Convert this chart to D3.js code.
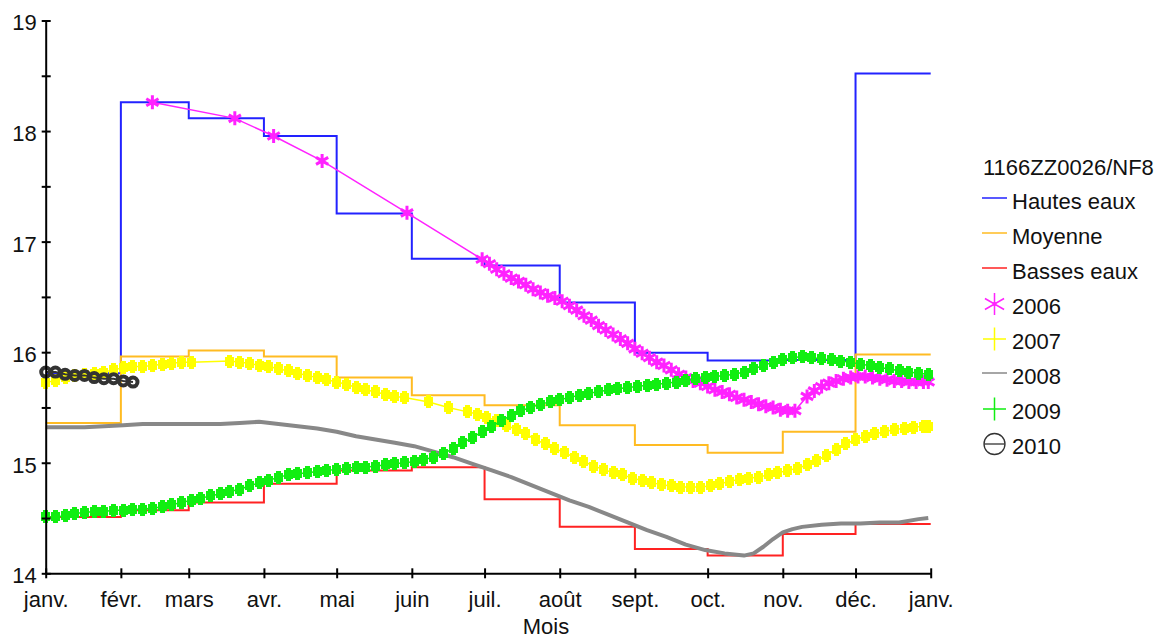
<!DOCTYPE html>
<html>
<head>
<meta charset="utf-8">
<script src="https://cdn.jsdelivr.net/npm/d3@7"></script>
<style>
  body { margin: 0; background: #fff; }
  svg { display: block; }
  text { font-family: "Liberation Sans", Arial, sans-serif; font-size: 22px; fill: #111; }
</style>
</head>
<body>
<svg id="chart" width="1171" height="639"></svg>
<script>
// Piezometer 1166ZZ0026/NF8 : monthly reference levels and yearly records (m)
const monthLabels = ["janv.", "févr.", "mars", "avr.", "mai", "juin", "juil.", "août", "sept.", "oct.", "nov.", "déc.", "janv."];
const monthStarts = [0, 31, 59, 90, 120, 151, 181, 212, 243, 273, 304, 334, 365];
const yTicks = [14, 14.5, 15, 15.5, 16, 16.5, 17, 17.5, 18, 18.5, 19];

// Monthly reference levels
const hautesEaux = [15.81, 18.26, 18.115, 17.955, 17.255, 16.845, 16.785, 16.45, 15.995, 15.925, 15.93, 18.52];
const moyenne    = [15.36, 15.96, 16.015, 15.96, 15.77, 15.61, 15.52, 15.34, 15.16, 15.09, 15.28, 15.98];
const bassesEaux = [14.51, 14.57, 14.64, 14.81, 14.93, 14.96, 14.67, 14.42, 14.22, 14.16, 14.355, 14.445];

// 2006 (day of year, level)
const days2006 = [44, 78, 94, 114, 149, 180, 183, 186, 189, 192, 195, 198, 201, 204, 207, 210, 213, 216, 219, 222,
  225, 228, 231, 234, 237, 240, 243, 246, 249, 252, 255, 258, 261, 264, 267, 270, 273, 276, 279, 282, 285, 288,
  291, 294, 297, 300, 303, 306, 309, 314, 317, 320, 323, 326, 329, 332, 335, 338, 341, 344, 347, 350, 353, 356,
  359, 362, 364];
const vals2006 = [18.26, 18.115, 17.955, 17.73, 17.26, 16.84, 16.80, 16.75, 16.71, 16.67, 16.64, 16.61, 16.57, 16.54,
  16.51, 16.49, 16.46, 16.42, 16.38, 16.33, 16.29, 16.24, 16.20, 16.16, 16.12, 16.08, 16.03, 15.99, 15.95, 15.91,
  15.88, 15.84, 15.80, 15.77, 15.74, 15.72, 15.69, 15.66, 15.64, 15.62, 15.59, 15.57, 15.55, 15.53, 15.51, 15.50,
  15.48, 15.47, 15.47, 15.60, 15.65, 15.69, 15.72, 15.74, 15.76, 15.77, 15.78, 15.78, 15.77, 15.76, 15.75, 15.74,
  15.74, 15.73, 15.73, 15.73, 15.73];

// 2007
const days2007 = [0, 4, 8, 12, 16, 20, 24, 28, 32, 36, 40, 44, 48, 52, 56, 60, 76, 80, 84, 88, 92, 96, 100, 104, 108,
  112, 116, 120, 124, 128, 132, 136, 140, 144, 148, 158, 166, 174, 178, 182, 186, 190, 194, 198, 202, 206, 210, 214,
  218, 222, 226, 230, 234, 238, 242, 246, 250, 254, 258, 262, 266, 270, 274, 278, 282, 286, 290, 294, 298, 302, 306,
  310, 314, 318, 322, 326, 330, 334, 338, 342, 346, 350, 354, 358, 362, 364];
const vals2007 = [15.73, 15.74, 15.77, 15.79, 15.80, 15.81, 15.82, 15.84, 15.86, 15.87, 15.87, 15.88, 15.89, 15.90,
  15.91, 15.91, 15.92, 15.91, 15.90, 15.88, 15.87, 15.85, 15.83, 15.81, 15.79, 15.77, 15.75, 15.73, 15.71, 15.68,
  15.66, 15.64, 15.62, 15.60, 15.59, 15.55, 15.50, 15.46, 15.44, 15.41, 15.38, 15.34, 15.30, 15.26, 15.21, 15.17,
  15.13, 15.09, 15.05, 15.01, 14.97, 14.94, 14.91, 14.89, 14.86, 14.84, 14.82, 14.80, 14.79, 14.78, 14.78, 14.78,
  14.79, 14.81, 14.83, 14.85, 14.86, 14.87, 14.89, 14.91, 14.93, 14.95, 14.98, 15.02, 15.07, 15.12, 15.17, 15.21,
  15.24, 15.26, 15.28, 15.30, 15.31, 15.32, 15.33, 15.33];

// 2008
const days2008 = [0, 8, 16, 24, 32, 40, 48, 56, 64, 72, 80, 88, 96, 104, 112, 120, 128, 136, 144, 152, 160, 168, 176,
  184, 192, 200, 208, 216, 224, 232, 240, 248, 256, 264, 272, 280, 288, 292, 296, 300, 304, 308, 312, 320, 328, 336,
  344, 352, 360, 364];
const vals2008 = [15.32, 15.32, 15.32, 15.33, 15.34, 15.35, 15.35, 15.35, 15.35, 15.35, 15.36, 15.37, 15.35, 15.33,
  15.31, 15.28, 15.24, 15.21, 15.18, 15.15, 15.10, 15.05, 14.99, 14.93, 14.87, 14.80, 14.73, 14.66, 14.60, 14.53,
  14.46, 14.39, 14.33, 14.26, 14.21, 14.18, 14.16, 14.18, 14.24, 14.31, 14.37, 14.40, 14.42, 14.44, 14.45, 14.45,
  14.46, 14.46, 14.49, 14.50];

// 2009
const days2009 = [0, 4, 8, 12, 16, 20, 24, 28, 32, 36, 40, 44, 48, 52, 56, 60, 64, 68, 72, 76, 80, 84, 88, 92, 96,
  100, 104, 108, 112, 116, 120, 124, 128, 132, 136, 140, 144, 148, 152, 156, 160, 164, 168, 172, 176, 180, 184, 188,
  192, 196, 200, 204, 208, 212, 216, 220, 224, 228, 232, 236, 240, 244, 248, 252, 256, 260, 264, 268, 272, 276, 280,
  284, 288, 292, 296, 300, 304, 308, 312, 316, 320, 324, 328, 332, 336, 340, 344, 348, 352, 356, 360, 364];
const vals2009 = [14.51, 14.51, 14.52, 14.54, 14.55, 14.56, 14.56, 14.57, 14.57, 14.58, 14.58, 14.59, 14.60, 14.62,
  14.64, 14.66, 14.68, 14.70, 14.72, 14.74, 14.76, 14.79, 14.82, 14.84, 14.87, 14.89, 14.90, 14.91, 14.92, 14.93,
  14.94, 14.95, 14.96, 14.96, 14.97, 14.98, 14.99, 15.00, 15.01, 15.03, 15.05, 15.08, 15.13, 15.18, 15.23, 15.28,
  15.33, 15.38, 15.43, 15.47, 15.50, 15.53, 15.55, 15.57, 15.59, 15.61, 15.63, 15.64, 15.66, 15.67, 15.68, 15.69,
  15.70, 15.71, 15.72, 15.73, 15.74, 15.76, 15.77, 15.78, 15.79, 15.80, 15.82, 15.85, 15.88, 15.91, 15.93, 15.95,
  15.96, 15.95, 15.94, 15.93, 15.92, 15.91, 15.89, 15.88, 15.86, 15.85, 15.83, 15.82, 15.81, 15.80];

// 2010
const days2010 = [0, 4, 8, 12, 16, 20, 24, 28, 32, 36];
const vals2010 = [15.82, 15.82, 15.80, 15.79, 15.79, 15.77, 15.76, 15.76, 15.74, 15.73];

const legendTitle = "1166ZZ0026/NF8";
const legendNames = ["Hautes eaux", "Moyenne", "Basses eaux", "2006", "2007", "2008", "2009", "2010"];
const colors = {
  hautes: "#2222ff", moyenne: "#ffbb22", basses: "#ff2222",
  y2006: "#ff22ff", y2007: "#ffff00", y2008: "#888888", y2009: "#11ee11", y2010: "#333333"
};

const svg = d3.select("#chart");
const x = d3.scaleLinear().domain([0, 365]).range([45.7, 930.7]);
const y = d3.scaleLinear().domain([14, 19]).range([573.3, 20.5]);

const zip = (ds, vs) => ds.map((d, i) => [d, vs[i]]);
const monthly = vs => monthStarts.slice(0, 12).map((d, i) => [d, vs[i]]).concat([[365, vs[11]]]);

const stepLine = d3.line().x(d => x(d[0])).y(d => y(d[1])).curve(d3.curveStepAfter);
const plainLine = d3.line().x(d => x(d[0])).y(d => y(d[1]));

// Marker shapes
function asteriskPath(r) {
  const a = r * 0.87, b = r * 0.5;
  return `M0,${-r}V${r}M${-a},${-b}L${a},${b}M${-a},${b}L${a},${-b}`;
}
function crossPath(r) { return `M${-r},0H${r}M0,${-r}V${r}`; }
// chunky cross used for the daily markers: square body with short vertical arms
const blockPlus = "M-4.5,-4.5h9v9h-9zM-2.5,-6.5h5v13h-5z";

// Reference steps
const steps = svg.append("g").attr("fill", "none").attr("stroke-width", 2);
[[hautesEaux, colors.hautes], [moyenne, colors.moyenne], [bassesEaux, colors.basses]].forEach(([vs, c]) => {
  steps.append("path").attr("d", stepLine(monthly(vs))).attr("stroke", c);
});

// 2006
const s2006 = zip(days2006, vals2006);
svg.append("path").attr("d", plainLine(s2006)).attr("fill", "none")
  .attr("stroke", colors.y2006).attr("stroke-width", 1.5);
svg.append("g").selectAll("path").data(s2006).join("path")
  .attr("transform", d => `translate(${x(d[0])},${y(d[1])})`)
  .attr("d", asteriskPath(7)).attr("fill", "none")
  .attr("stroke", colors.y2006).attr("stroke-width", 3);

// 2007
const s2007 = zip(days2007, vals2007);
svg.append("path").attr("d", plainLine(s2007)).attr("fill", "none")
  .attr("stroke", colors.y2007).attr("stroke-width", 1.5);
svg.append("g").attr("shape-rendering", "crispEdges").selectAll("path").data(s2007).join("path")
  .attr("transform", d => `translate(${x(d[0])},${y(d[1])})`)
  .attr("d", blockPlus).attr("fill", colors.y2007);

// 2008
svg.append("path").attr("d", plainLine(zip(days2008, vals2008))).attr("fill", "none")
  .attr("stroke", colors.y2008).attr("stroke-width", 4).attr("stroke-linejoin", "round");

// 2009
const s2009 = zip(days2009, vals2009);
svg.append("path").attr("d", plainLine(s2009)).attr("fill", "none")
  .attr("stroke", colors.y2009).attr("stroke-width", 1.5);
svg.append("g").attr("shape-rendering", "crispEdges").selectAll("path").data(s2009).join("path")
  .attr("transform", d => `translate(${x(d[0])},${y(d[1])})`)
  .attr("d", blockPlus).attr("fill", colors.y2009);

// 2010
const s2010 = zip(days2010, vals2010);
svg.append("path").attr("d", plainLine(s2010)).attr("fill", "none")
  .attr("stroke", colors.y2010).attr("stroke-width", 2);
svg.append("g").selectAll("circle").data(s2010).join("circle")
  .attr("cx", d => x(d[0])).attr("cy", d => y(d[1]))
  .attr("r", 4.5).attr("fill", "none").attr("stroke", colors.y2010).attr("stroke-width", 4);

// Axes
const xAxis = svg.append("g").attr("transform", `translate(0,${y(14)})`)
  .call(d3.axisBottom(x).tickValues(monthStarts).tickFormat((d, i) => monthLabels[i])
    .tickSizeInner(5).tickSizeOuter(0).tickPadding(13));
xAxis.selectAll(".tick line").attr("y1", -5).attr("stroke-width", 2).attr("stroke", "#000");
xAxis.select(".domain").attr("stroke-width", 2).attr("stroke", "#000");
xAxis.selectAll("text").attr("font-size", 22).attr("font-family", "Liberation Sans, Arial, sans-serif").attr("fill", "#111");

const yAxis = svg.append("g").attr("transform", `translate(${x(0)},0)`)
  .call(d3.axisLeft(y).tickValues(yTicks).tickFormat(d => Number.isInteger(d) ? d : "")
    .tickSizeInner(4).tickSizeOuter(0).tickPadding(5));
yAxis.selectAll(".tick line").attr("x1", 5).attr("stroke-width", 2).attr("stroke", "#000");
yAxis.select(".domain").attr("stroke-width", 2).attr("stroke", "#000");
yAxis.selectAll("text").attr("dy", "0.43em").attr("font-size", 22)
  .attr("font-family", "Liberation Sans, Arial, sans-serif").attr("fill", "#111");

svg.append("text").attr("x", 546).attr("y", 634).attr("text-anchor", "middle").text("Mois");

// Legend
const legend = svg.append("g");
legend.append("text").attr("x", 983).attr("y", 175).text(legendTitle);
const symX = 994.5, txtX = 1012;
legendNames.forEach((name, i) => {
  const base = 209 + 35 * i;
  legend.append("text").attr("x", txtX).attr("y", base).text(name);
  const g = legend.append("g").attr("transform", `translate(${symX},${base - 10})`);
  if (i < 3 || i === 5) {
    const c = [colors.hautes, colors.moyenne, colors.basses, null, null, colors.y2008][i];
    g.append("line").attr("x1", -12.5).attr("x2", 12.5).attr("y1", -1).attr("y2", -1)
      .attr("stroke", c).attr("stroke-width", 1.5);
  } else if (i === 3) {
    g.append("path").attr("d", asteriskPath(11)).attr("fill", "none")
      .attr("stroke", colors.y2006).attr("stroke-width", 1.5);
    g.append("circle").attr("r", 2).attr("fill", colors.y2006);
  } else if (i === 4 || i === 6) {
    g.append("path").attr("d", crossPath(11.5)).attr("fill", "none")
      .attr("stroke", i === 4 ? colors.y2007 : colors.y2009).attr("stroke-width", 1.5);
  } else {
    g.append("circle").attr("r", 10.5).attr("fill", "none").attr("stroke", colors.y2010).attr("stroke-width", 1.3);
    g.append("line").attr("x1", -10.5).attr("x2", 10.5).attr("stroke", colors.y2010).attr("stroke-width", 1.3);
  }
});
</script>
</body>
</html>
